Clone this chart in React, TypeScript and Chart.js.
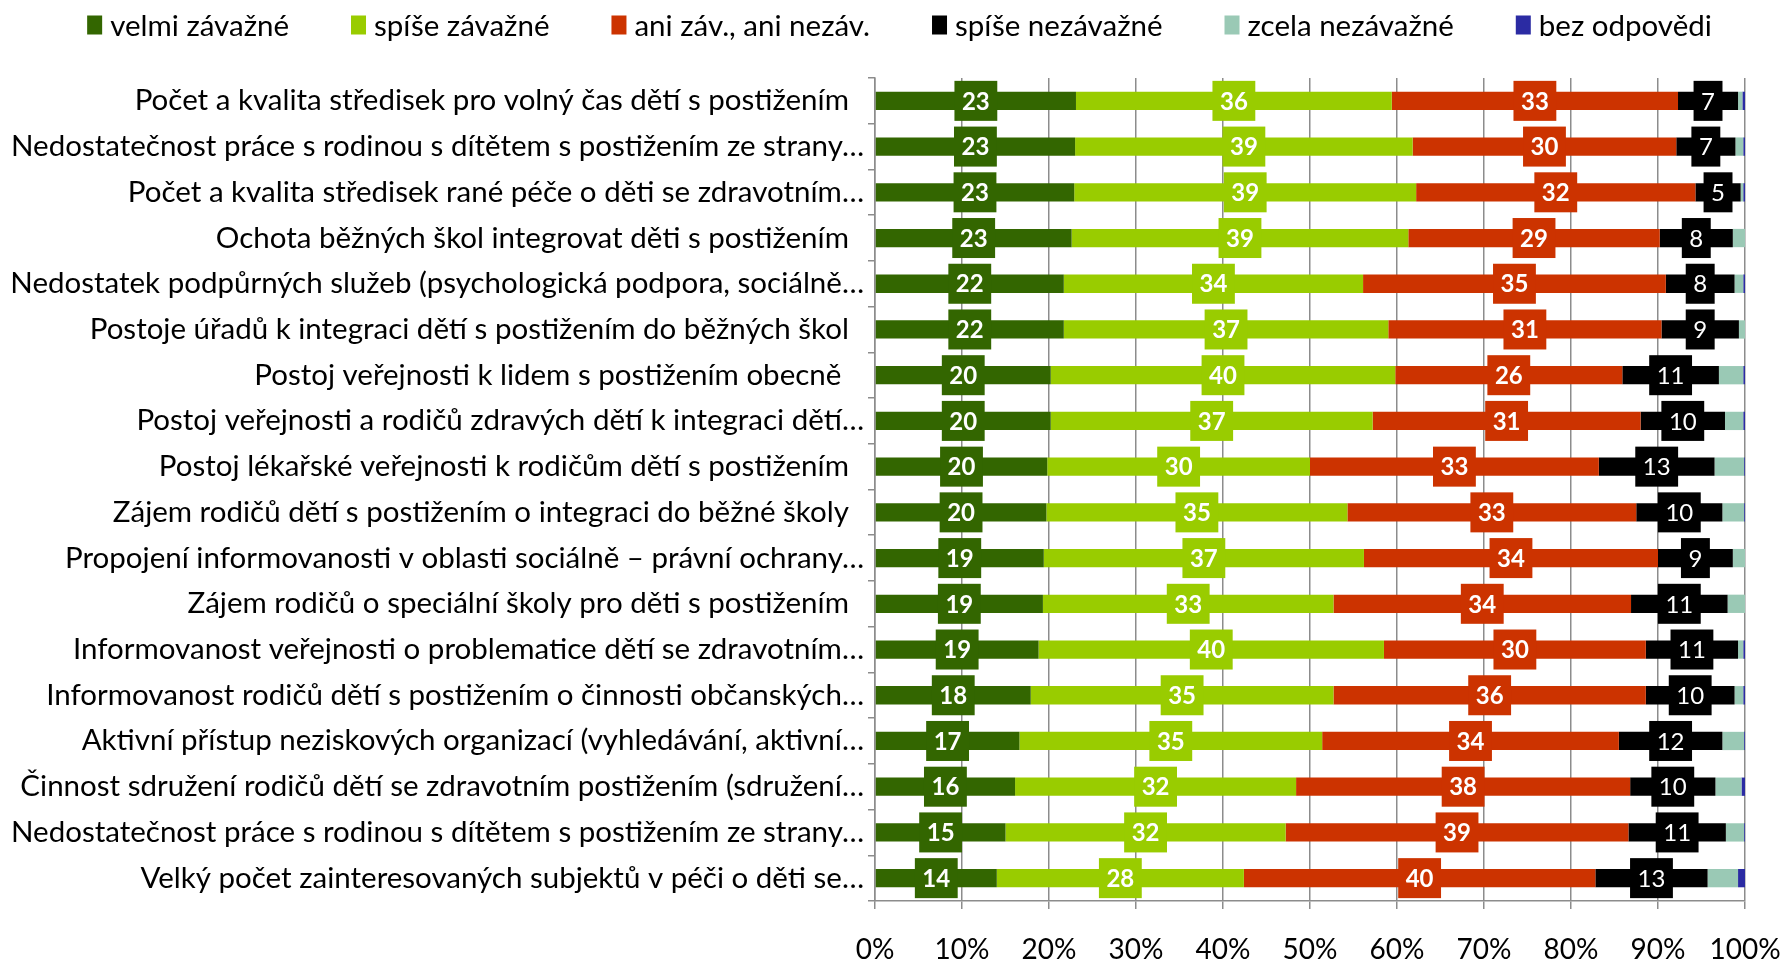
import React, { useEffect, useRef } from 'react';
import { Chart, registerables } from 'chart.js';

Chart.register(...registerables);

const categories = [
  'Počet a kvalita středisek pro volný čas dětí s postižením  ',
  'Nedostatečnost práce s rodinou s dítětem s postižením ze strany…',
  'Počet a kvalita středisek rané péče o děti se zdravotním…',
  'Ochota běžných škol integrovat děti s postižením  ',
  'Nedostatek podpůrných služeb (psychologická podpora, sociálně…',
  'Postoje úřadů k integraci dětí s postižením do běžných škol  ',
  'Postoj veřejnosti k lidem s postižením obecně   ',
  'Postoj veřejnosti a rodičů zdravých dětí k integraci dětí…',
  'Postoj lékařské veřejnosti k rodičům dětí s postižením  ',
  'Zájem rodičů dětí s postižením o integraci do běžné školy  ',
  'Propojení informovanosti v oblasti sociálně – právní ochrany…',
  'Zájem rodičů o speciální školy pro děti s postižením  ',
  'Informovanost veřejnosti o problematice dětí se zdravotním…',
  'Informovanost rodičů dětí s postižením o činnosti občanských…',
  'Aktivní přístup neziskových organizací (vyhledávání, aktivní…',
  'Činnost sdružení rodičů dětí se zdravotním postižením (sdružení…',
  'Nedostatečnost práce s rodinou s dítětem s postižením ze strany…',
  'Velký počet zainteresovaných subjektů v péči o děti se…',
];

const seriesNames = [
  'velmi závažné',
  'spíše závažné',
  'ani záv., ani nezáv.',
  'spíše nezávažné',
  'zcela nezávažné',
  'bez odpovědi',
];

const velmiZavazne = [23.1, 23.0, 22.9, 22.6, 21.7, 21.7, 20.2, 20.2, 19.8, 19.7, 19.4, 19.3, 18.8, 17.9, 16.6, 16.1, 15.0, 14.0];
const spiseZavazne = [36.3, 38.8, 39.3, 38.7, 34.4, 37.3, 39.6, 37.0, 30.2, 34.6, 36.8, 33.4, 39.7, 34.8, 34.8, 32.3, 32.2, 28.4];
const aniAni = [32.9, 30.3, 32.1, 28.9, 34.8, 31.4, 26.1, 30.8, 33.2, 33.2, 33.8, 34.2, 30.1, 35.9, 34.1, 38.4, 39.4, 40.4];
const spiseNezavazne = [6.9, 6.8, 5.2, 8.4, 7.9, 8.9, 11.1, 9.7, 13.3, 9.9, 8.6, 11.1, 10.6, 10.2, 11.9, 9.8, 11.2, 12.9];
const zcelaNezavazne = [0.5, 0.9, 0.3, 1.4, 1.0, 0.7, 2.8, 2.1, 3.4, 2.5, 1.4, 2.0, 0.6, 1.0, 2.5, 3.0, 2.1, 3.5];
const bezOdpovedi = [0.3, 0.2, 0.2, 0.0, 0.2, 0.0, 0.2, 0.2, 0.1, 0.1, 0.0, 0.0, 0.2, 0.2, 0.1, 0.4, 0.1, 0.8];

const seriesValues = [velmiZavazne, spiseZavazne, aniAni, spiseNezavazne, zcelaNezavazne, bezOdpovedi];
const seriesColors = ['#336600', '#99CC00', '#CC3300', '#000000', '#9AC9B5', '#2B2BA3'];
const labelledSeries = [0, 1, 2, 3];

const FONT = 'Lato';

const legendPlugin = {
  id: 'customLegend',
  afterDraw(chart: any) {
    const ctx = chart.ctx;
    ctx.save();
    ctx.font = `29.5px ${FONT}`;
    const boxW = 15;
    const boxH = 19;
    const textGap = 8;
    const itemGap = 62;
    const widths = chart.data.datasets.map((d: any) => boxW + textGap + ctx.measureText(d.label).width);
    const total = widths.reduce((a: number, b: number) => a + b, 0) + itemGap * (widths.length - 1);
    let x = (chart.width - total) / 2 + 8;
    const cy = 25;
    chart.data.datasets.forEach((d: any, i: number) => {
      ctx.fillStyle = d.backgroundColor;
      ctx.fillRect(x, cy - boxH / 2, boxW, boxH);
      ctx.fillStyle = '#000';
      ctx.textBaseline = 'middle';
      ctx.textAlign = 'left';
      ctx.fillText(d.label, x + boxW + textGap, cy + 1);
      x += widths[i] + itemGap;
    });
    ctx.restore();
  },
};

const valueLabelPlugin = {
  id: 'valueLabels',
  afterDatasetsDraw(chart: any) {
    const ctx = chart.ctx;
    ctx.save();
    labelledSeries.forEach((di) => {
      const meta = chart.getDatasetMeta(di);
      const ds = chart.data.datasets[di];
      ctx.font = di === 3 ? `24px ${FONT}` : `bold 24px ${FONT}`;
      meta.data.forEach((el: any, i: number) => {
        const { x, base, y } = el.getProps(['x', 'base', 'y'], true);
        const text = String(Math.round(ds.data[i]));
        const tw = ctx.measureText(text).width;
        const w = tw + 15;
        const h = 40;
        const cx = (x + base) / 2;
        ctx.fillStyle = ds.backgroundColor;
        ctx.fillRect(cx - w / 2, y - h / 2, w, h);
        ctx.fillStyle = '#FFFFFF';
        ctx.textAlign = 'center';
        ctx.textBaseline = 'middle';
        ctx.fillText(text, cx, y + 1);
      });
    });
    ctx.restore();
  },
};

export default function App() {
  const ref = useRef<HTMLCanvasElement | null>(null);
  useEffect(() => {
    if (!ref.current) return;
    const chart = new Chart(ref.current, {
      type: 'bar',
      data: {
        labels: categories,
        datasets: seriesNames.map((name, i) => ({
          label: name,
          data: seriesValues[i],
          backgroundColor: seriesColors[i],
          borderWidth: 0,
          categoryPercentage: 0.4,
          barPercentage: 1,
        })),
      },
      options: {
        indexAxis: 'y',
        animation: false,
        responsive: true,
        maintainAspectRatio: false,
        layout: { padding: { top: 78, right: 38, left: 0, bottom: 0 } },
        plugins: {
          legend: { display: false },
          tooltip: { enabled: false },
        },
        scales: {
          x: {
            type: 'linear',
            stacked: true,
            min: 0,
            max: 100,
            ticks: {
              stepSize: 10,
              callback: (v: any) => v + '%',
              font: { family: FONT, size: 28 },
              color: '#000',
              padding: 24,
              maxRotation: 0,
            },
            grid: { color: '#8C8C8C', lineWidth: 1.5, tickLength: 8 },
            border: { color: '#8C8C8C', width: 1.5 },
            afterFit: (s: any) => {
              s.height = 62;
              s.paddingLeft = 0;
              s.paddingRight = 0;
            },
          },
          y: {
            type: 'category',
            stacked: true,
            ticks: {
              font: { family: FONT, size: 29.5 },
              color: '#000',
              padding: 4,
              autoSkip: false,
            },
            grid: { drawOnChartArea: false, offset: true, tickLength: 7, color: '#8C8C8C', lineWidth: 1.5 },
            border: { color: '#8C8C8C', width: 1.5 },
            afterFit: (s: any) => {
              s.width = 875;
              s.paddingTop = 0;
              s.paddingBottom = 0;
            },
          },
        },
      },
      plugins: [legendPlugin, valueLabelPlugin],
    });
    return () => chart.destroy();
  }, []);
  return (
    <div style={{ position: 'absolute', left: 0, top: 0, width: '1783px', height: '963px' }}>
      <canvas ref={ref} />
    </div>
  );
}
